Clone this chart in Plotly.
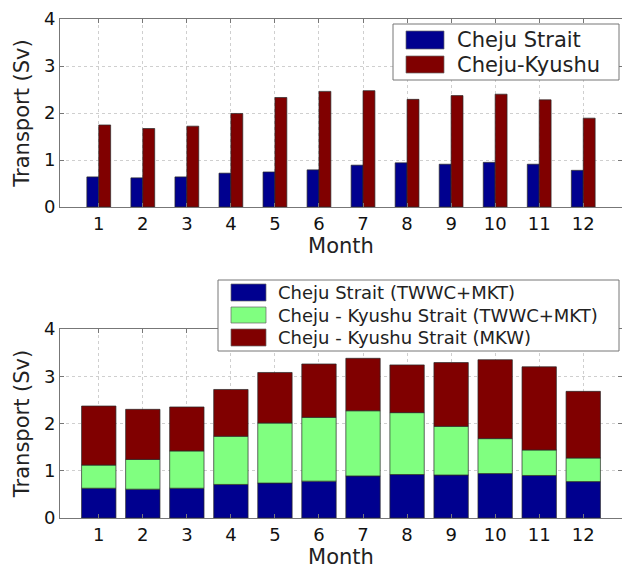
import plotly.graph_objects as go

months = [1, 2, 3, 4, 5, 6, 7, 8, 9, 10, 11, 12]
tick_labels = [str(m) for m in months]

# Top panel: monthly transport (Sv)
cheju_strait = [0.64, 0.62, 0.64, 0.72, 0.745, 0.79, 0.89, 0.94, 0.91, 0.95, 0.91, 0.78]
cheju_kyushu = [1.745, 1.67, 1.72, 1.99, 2.33, 2.46, 2.475, 2.29, 2.37, 2.40, 2.28, 1.89]

# Bottom panel: stacked components (Sv)
cs_twwc_mkt = [0.63, 0.61, 0.63, 0.71, 0.74, 0.78, 0.89, 0.92, 0.91, 0.94, 0.90, 0.77]
ck_twwc_mkt = [0.49, 0.63, 0.79, 1.02, 1.27, 1.35, 1.38, 1.31, 1.03, 0.74, 0.54, 0.50]
ck_mkw = [1.25, 1.06, 0.93, 0.99, 1.07, 1.13, 1.11, 1.01, 1.35, 1.67, 1.76, 1.41]

top_names = ["Cheju Strait", "Cheju-Kyushu"]
bottom_names = ["Cheju Strait (TWWC+MKT)", "Cheju - Kyushu Strait (TWWC+MKT)",
                "Cheju - Kyushu Strait (MKW)"]

BLUE = "rgb(0,0,143)"
GREEN = "rgb(128,255,128)"
RED = "rgb(128,0,0)"
EDGE = "rgb(40,40,40)"
FONT = "DejaVu Sans"
PAGE_MARGIN = 8  # default body margin of the html page
W, H = 630 - PAGE_MARGIN, 576 - PAGE_MARGIN

fig = go.Figure()

bw = 0.27
fig.add_bar(x=months, y=cheju_strait, width=bw, offset=-bw, marker_color=BLUE,
            marker_line=dict(color=EDGE, width=0.7), xaxis="x", yaxis="y", showlegend=False)
fig.add_bar(x=months, y=cheju_kyushu, width=bw, offset=0, marker_color=RED,
            marker_line=dict(color=EDGE, width=0.7), xaxis="x", yaxis="y", showlegend=False)

sw = 0.78
base_green = cs_twwc_mkt
base_red = [a + b for a, b in zip(cs_twwc_mkt, ck_twwc_mkt)]
fig.add_bar(x=months, y=cs_twwc_mkt, width=sw, offset=-sw / 2, marker_color=BLUE,
            marker_line=dict(color=EDGE, width=0.7), xaxis="x2", yaxis="y2", showlegend=False)
fig.add_bar(x=months, y=ck_twwc_mkt, base=base_green, width=sw, offset=-sw / 2, marker_color=GREEN,
            marker_line=dict(color=EDGE, width=0.7), xaxis="x2", yaxis="y2", showlegend=False)
fig.add_bar(x=months, y=ck_mkw, base=base_red, width=sw, offset=-sw / 2, marker_color=RED,
            marker_line=dict(color=EDGE, width=0.7), xaxis="x2", yaxis="y2", showlegend=False)


def px_x(p):
    return (p - PAGE_MARGIN) / W


def px_y(p):
    return 1 - (p - PAGE_MARGIN) / H


axis_common = dict(
    showline=True, linecolor="#777", linewidth=1, mirror="ticks",
    ticks="inside", ticklen=4, tickcolor="#777",
    showgrid=True, gridcolor="#cfcfcf", griddash="dot", gridwidth=1,
    zeroline=False, tickfont=dict(family=FONT, size=18, color="#111"),
    automargin=False,
)
xdom = [px_x(60), px_x(622)]
xaxis_kw = dict(axis_common, range=[0.12, 12.88], tickmode="array", tickvals=months,
                ticktext=tick_labels, domain=xdom,
                title=dict(text="Month", font=dict(family=FONT, size=21, color="#222"), standoff=4))
yaxis_kw = dict(axis_common, range=[0, 4], tickvals=[0, 1, 2, 3, 4],
                title=dict(text="Transport (Sv)", font=dict(family=FONT, size=21, color="#222"),
                           standoff=8))

fig.update_layout(
    width=W, height=H, margin=dict(l=0, r=0, t=0, b=0),
    paper_bgcolor="white", plot_bgcolor="white", barmode="overlay",
    xaxis=dict(xaxis_kw, anchor="y"),
    yaxis=dict(yaxis_kw, anchor="x", domain=[px_y(207), px_y(19)]),
    xaxis2=dict(xaxis_kw, anchor="y2"),
    yaxis2=dict(yaxis_kw, anchor="x2", domain=[px_y(518), px_y(329)]),
)

shapes = []
annots = []


def legend(box, items, sw_x, text_x, fsize):
    x0, y0, x1, y1 = box
    shapes.append(dict(type="rect", xref="paper", yref="paper", x0=px_x(x0), x1=px_x(x1),
                       y0=px_y(y1), y1=px_y(y0), fillcolor="white",
                       line=dict(color="#777", width=1), layer="above"))
    for name, color, (ya, yb) in items:
        shapes.append(dict(type="rect", xref="paper", yref="paper", x0=px_x(sw_x[0]), x1=px_x(sw_x[1]),
                           y0=px_y(yb), y1=px_y(ya), fillcolor=color,
                           line=dict(color="#666", width=0.7), layer="above"))
        annots.append(dict(text=name, xref="paper", yref="paper", x=px_x(text_x), y=px_y((ya + yb) / 2),
                           xanchor="left", yanchor="middle", showarrow=False,
                           font=dict(family=FONT, size=fsize, color="#222")))


legend((393, 24, 619, 80),
       [(top_names[0], BLUE, (31, 49)), (top_names[1], RED, (56, 73))],
       (406, 444), 455, 21)
legend((218, 280, 619, 351),
       [(bottom_names[0], BLUE, (284, 301)), (bottom_names[1], GREEN, (307, 323)),
        (bottom_names[2], RED, (329, 346))],
       (231, 266), 276, 18)

fig.update_layout(shapes=shapes, annotations=annots)
fig.write_html("out.html")
